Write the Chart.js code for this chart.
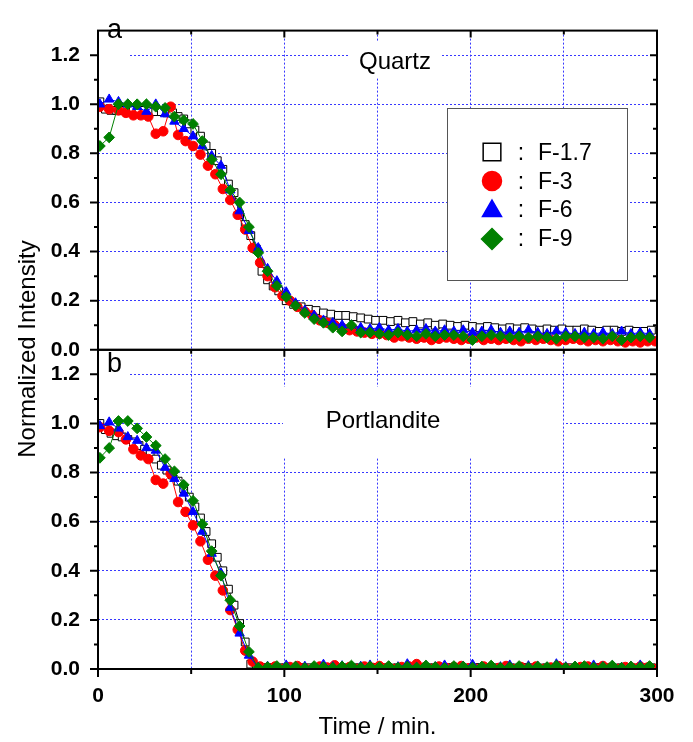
<!DOCTYPE html>
<html><head><meta charset="utf-8">
<script src="https://cdn.jsdelivr.net/npm/chart.js@4/dist/chart.umd.min.js"></script>
<style>html,body{margin:0;padding:0;background:#fff}canvas{display:block}</style>
</head><body>
<canvas id="c" width="693" height="742"></canvas>
<script>
// ---------- data ----------
const seriesNames = ['F-1.7', 'F-3', 'F-6', 'F-9'];
const panelTitles = ['Quartz', 'Portlandite'];
const panelLetters = ['a', 'b'];
const xTickLabels = ['0', '100', '200', '300'];
const yTickLabels = ['0.0', '0.2', '0.4', '0.6', '0.8', '1.0', '1.2'];
const xTitle = 'Time / min.';
const yTitle = 'Normalized Intensity';

// sampling times (min)
const timesBlack = [1,4,7,10,13,16,19,22,25,28, 31,34,37,40,43,46,49,52,55,58,
  61,64,67,70,73,76,79,82,85,88, 91,94,97,
  101,105,109,113,117,121,125,129,133,137, 141,145,149,153,157,161,165,169,173,177,
  181,185,189,193,197,201,205,209,213,217, 221,225,229,233,237,241,245,249,253,257,
  261,265,269,273,277,281,285,289,293,297];
const timesRed = [1,6,11,15,19,23,27,31,35,39, 43,47,51,55,59,63,67,71,75,79,
  83,87,91,95,99,103,107,111,115,119, 123,127,131,135,139,143,147,151,155,159,
  163,167,171,175,179,183,187,191,195,199, 203,207,211,215,219,223,227,231,235,239,
  243,247,251,255,259,263,267,271,275,279, 283,287,291,295,299];
const timesBlueGreen = [1,6,11,16,21,26,31,36,41,46, 51,56,61,66,71,76,81,86,91,96,
  101,106,111,116,121,126,131,136,141,146, 151,156,161,166,171,176,181,186,191,196,
  201,206,211,216,221,226,231,236,241,246, 251,256,261,266,271,276,281,286,291,296];

// (a) Quartz
const quartzF17 = [1.01,0.98,0.975,0.975,0.975,0.975,0.975,0.975,0.975,0.97,
  0.97,0.97,0.965,0.965,0.95,0.94,0.92,0.895,0.87,0.83,
  0.80,0.77,0.735,0.675,0.64,0.55,0.51,0.465,0.41,0.32,
  0.285,0.26,0.24,
  0.20,0.185,0.175,0.165,0.16,0.15,0.145,0.14,0.14,0.135,
  0.13,0.125,0.12,0.12,0.115,0.12,0.11,0.115,0.105,0.11,
  0.10,0.105,0.10,0.095,0.10,0.095,0.09,0.095,0.09,0.085,
  0.09,0.085,0.09,0.085,0.08,0.085,0.08,0.085,0.08,0.08,
  0.085,0.08,0.075,0.08,0.08,0.075,0.08,0.075,0.075,0.08];
const quartzF3 = [0.99,0.98,0.975,0.965,0.955,0.955,0.95,0.88,0.89,0.99,
  0.875,0.85,0.83,0.795,0.75,0.715,0.655,0.61,0.55,0.49,
  0.415,0.355,0.30,0.255,0.22,0.20,0.175,0.155,0.14,0.12,
  0.11,0.10,0.09,0.08,0.075,0.07,0.065,0.065,0.06,0.05,
  0.055,0.05,0.045,0.05,0.04,0.045,0.05,0.045,0.04,0.045,
  0.05,0.04,0.045,0.04,0.045,0.04,0.035,0.045,0.04,0.045,
  0.04,0.035,0.04,0.045,0.04,0.035,0.04,0.035,0.04,0.035,
  0.03,0.035,0.03,0.035,0.035];
const quartzF6 = [1.0,1.02,1.01,1.0,0.99,0.97,1.0,0.96,0.93,0.90,
  0.87,0.83,0.79,0.75,0.65,0.565,0.485,0.415,0.33,0.28,
  0.235,0.19,0.16,0.14,0.12,0.11,0.10,0.10,0.09,0.085,
  0.09,0.08,0.085,0.075,0.08,0.085,0.075,0.08,0.075,0.08,
  0.07,0.075,0.08,0.07,0.075,0.07,0.08,0.07,0.065,0.075,
  0.07,0.065,0.07,0.065,0.07,0.065,0.075,0.065,0.07,0.065];
const quartzF9 = [0.83,0.865,1.0,1.0,1.0,1.0,0.99,0.985,0.95,0.935,
  0.92,0.85,0.775,0.715,0.65,0.60,0.50,0.395,0.32,0.26,
  0.215,0.18,0.15,0.125,0.11,0.09,0.075,0.10,0.07,0.07,
  0.065,0.06,0.07,0.06,0.055,0.065,0.055,0.06,0.06,0.055,
  0.04,0.055,0.06,0.055,0.05,0.055,0.05,0.055,0.05,0.045,
  0.055,0.055,0.05,0.05,0.045,0.055,0.04,0.05,0.055,0.05];

// (b) Portlandite
const portlanditeF17 = [1.0,0.975,0.96,0.95,0.945,0.935,0.925,0.91,0.895,0.875,
  0.855,0.83,0.81,0.79,0.765,0.735,0.70,0.66,0.615,0.56,
  0.51,0.455,0.40,0.325,0.26,0.185,0.11,0.02,0.005,0.005,
  0.005,0.005,0.005,
  0.005,0.004,0.006,0.005,0.004,0.005,0.006,0.004,0.005,0.005,
  0.005,0.004,0.006,0.005,0.004,0.005,0.006,0.004,0.005,0.005,
  0.005,0.004,0.006,0.005,0.004,0.005,0.006,0.004,0.005,0.005,
  0.005,0.004,0.006,0.005,0.004,0.005,0.006,0.004,0.005,0.005,
  0.005,0.004,0.006,0.005,0.004,0.005,0.006,0.004,0.005,0.005];
const portlanditeF3 = [0.985,0.97,0.965,0.935,0.895,0.87,0.855,0.77,0.755,0.795,
  0.68,0.64,0.585,0.52,0.445,0.38,0.32,0.24,0.16,0.075,
  0.03,0.01,0.005,0.01,0.0,0.008,0.012,0.004,0.0,0.01,
  0.006,0.015,0.003,0.008,0.0,0.01,0.005,0.012,0.004,0.0,
  0.008,0.01,0.02,0.006,0.0,0.01,0.004,0.008,0.012,0.003,
  0.0,0.01,0.006,0.004,0.012,0.0,0.008,0.005,0.01,0.0,
  0.006,0.012,0.004,0.0,0.008,0.01,0.003,0.012,0.005,0.0,
  0.008,0.004,0.01,0.006,0.0];
const portlanditeF6 = [0.99,1.005,0.98,0.945,0.93,0.90,0.89,0.82,0.775,0.715,
  0.64,0.56,0.47,0.39,0.25,0.145,0.055,0.005,0.01,0.005,
  0.015,0.008,0.01,0.005,0.018,0.008,0.012,0.006,0.01,0.015,
  0.005,0.01,0.008,0.02,0.006,0.012,0.008,0.015,0.005,0.01,
  0.018,0.006,0.01,0.008,0.015,0.005,0.012,0.01,0.006,0.02,
  0.008,0.01,0.005,0.015,0.008,0.012,0.006,0.01,0.015,0.008];
const portlanditeF9 = [0.86,0.90,1.01,1.01,0.98,0.945,0.91,0.855,0.805,0.75,
  0.685,0.59,0.48,0.38,0.28,0.175,0.07,0.005,0.008,0.012,
  0.006,0.01,0.004,0.012,0.008,0.005,0.01,0.014,0.006,0.01,
  0.008,0.012,0.005,0.01,0.006,0.014,0.008,0.004,0.012,0.01,
  0.006,0.01,0.014,0.005,0.008,0.012,0.006,0.01,0.008,0.014,
  0.005,0.01,0.012,0.006,0.008,0.014,0.005,0.01,0.008,0.012];

// ---------- styles ----------
const FONT = "'Liberation Sans', Arial, Helvetica, sans-serif";
Chart.defaults.font.family = FONT;
Chart.defaults.color = '#000';
const lineColors = ['#000000', '#ff0000', '#0000ff', '#008000'];
const fillColors = ['#ffffff', '#ff0000', '#0000ff', '#008000'];
const shapes = ['rect', 'circle', 'triangle', 'rectRot'];
const radii = [5.5, 4.8, 5.4, 5.4];
const legendRadii = [12.5, 9.5, 11, 10.5];
const gridColor = '#3838ff';

function makeSet(k, times, values, axisId) {
  return {
    label: seriesNames[k] + ' ' + axisId,
    data: times.map((t, i) => ({x: t, y: values[i]})),
    yAxisID: axisId,
    showLine: true,
    tension: 0,
    borderColor: lineColors[k],
    backgroundColor: fillColors[k],
    borderWidth: 1,
    pointStyle: shapes[k],
    pointRadius: radii[k],
    pointHoverRadius: radii[k],
    pointBorderColor: lineColors[k],
    pointBackgroundColor: fillColors[k],
    pointBorderWidth: 1,
    clip: 0
  };
}

const panelA = [[quartzF17, timesBlack], [quartzF3, timesRed], [quartzF6, timesBlueGreen], [quartzF9, timesBlueGreen]];
const panelB = [[portlanditeF17, timesBlack], [portlanditeF3, timesRed], [portlanditeF6, timesBlueGreen], [portlanditeF9, timesBlueGreen]];
const datasets = [];
[3, 2, 1, 0].forEach(k => datasets.push(makeSet(k, panelA[k][1], panelA[k][0], 'yA')));
[3, 2, 1, 0].forEach(k => datasets.push(makeSet(k, panelB[k][1], panelB[k][0], 'yB')));

function yAxis() {
  return {
    type: 'linear', position: 'left', stack: 'panels', stackWeight: 1,
    min: 0, max: 1.3,
    afterFit(s) { s.width = 98; },
    ticks: {
      stepSize: 0.2, includeBounds: false,
      callback: (v) => { const s = Number(v).toFixed(1); return yTickLabels.includes(s) ? s : ''; },
      font: {size: 21, weight: 'bold'}, color: '#000', padding: 18
    },
    grid: {color: gridColor, lineWidth: 1, drawTicks: false},
    border: {display: false, dash: [2, 2]}
  };
}

const deco = {
  id: 'deco',
  beforeDatasetsDraw(chart) {
    const ctx = chart.ctx, x = chart.scales.x, yA = chart.scales.yA, yB = chart.scales.yB;
    ctx.save();
    ctx.fillStyle = '#fff';
    ctx.fillRect(x.left + 1, yA.top + 1, 31, 42);
    ctx.fillRect(x.left + 1, yB.top + 1, 31, 42);
    ctx.fillRect(350, 42, 92, 36);
    ctx.fillRect(283, 387, 280, 71);
    ctx.fillRect(447, 108, 180, 172);
    ctx.restore();
  },
  afterDraw(chart) {
    const ctx = chart.ctx, x = chart.scales.x, yA = chart.scales.yA, yB = chart.scales.yB;
    ctx.save();
    // frames
    ctx.strokeStyle = '#000';
    ctx.lineWidth = 2;
    [yA, yB].forEach(s => ctx.strokeRect(x.left, s.top, x.right - x.left, s.bottom - s.top));
    // tick marks
    ctx.beginPath();
    [yA, yB].forEach(s => {
      for (let i = 0; i <= 12; i++) {
        const py = s.getPixelForValue(i / 10);
        const major = i % 2 === 0;
        ctx.moveTo(x.left - (major ? 8 : 4), py); ctx.lineTo(x.left, py);
        ctx.moveTo(x.right, py); ctx.lineTo(x.right - (major ? 7 : 4), py);
      }
    });
    [0, 50, 100, 150, 200, 250, 300].forEach(v => {
      const px = x.getPixelForValue(v);
      const major = v % 100 === 0;
      ctx.moveTo(px, yB.bottom); ctx.lineTo(px, yB.bottom + (major ? 8 : 5));
      if (v > 0 && v < 300) {
        ctx.moveTo(px, yA.top); ctx.lineTo(px, yA.top + (major ? 7 : 4));
        ctx.moveTo(px, yB.top); ctx.lineTo(px, yB.top + (major ? 7 : 4));
      }
    });
    ctx.stroke();

    // panel letters & titles
    ctx.fillStyle = '#000';
    ctx.textBaseline = 'alphabetic';
    ctx.textAlign = 'left';
    ctx.font = '27px ' + FONT;
    ctx.fillText(panelLetters[0], 107, 38);
    ctx.fillText(panelLetters[1], 107, 372);
    ctx.textAlign = 'center';
    ctx.font = '24px ' + FONT;
    ctx.fillText(panelTitles[0], 395, 69);
    ctx.fillText(panelTitles[1], 383, 428);

    // y title
    ctx.save();
    ctx.translate(35, 349);
    ctx.rotate(-Math.PI / 2);
    ctx.font = '24px ' + FONT;
    ctx.textAlign = 'center';
    ctx.fillText(yTitle, 0, 0);
    ctx.restore();

    // legend
    ctx.lineWidth = 1;
    ctx.strokeStyle = '#555';
    ctx.strokeRect(447.5, 108.5, 180, 172);
    const rows = [152, 181, 211, 239];
    const textRows = [160, 189, 217, 246];
    for (let k = 0; k < 4; k++) {
      ctx.fillStyle = fillColors[k];
      ctx.strokeStyle = lineColors[k];
      ctx.lineWidth = 1.5;
      Chart.helpers.drawPoint(ctx, {pointStyle: shapes[k], radius: legendRadii[k], borderWidth: 1.5, rotation: 0}, 492, rows[k]);
      ctx.fillStyle = '#000';
      ctx.font = '23px ' + FONT;
      ctx.textAlign = 'center';
      ctx.fillText(':', 521, textRows[k]);
      ctx.textAlign = 'left';
      ctx.fillText(seriesNames[k], 538, textRows[k]);
    }
    ctx.restore();
  }
};

new Chart(document.getElementById('c'), {
  type: 'scatter',
  data: {datasets},
  options: {
    responsive: false,
    animation: false,
    devicePixelRatio: 1,
    layout: {padding: {top: 8, right: 36, left: 0, bottom: 0}},
    plugins: {legend: {display: false}, tooltip: {enabled: false}},
    scales: {
      x: {
        type: 'linear', position: 'bottom', min: 0, max: 300,
        afterFit(s) { s.height = 73; },
        ticks: {
          stepSize: 50, autoSkip: false, maxRotation: 0,
          callback: (v) => xTickLabels.includes(String(v)) ? String(v) : '',
          font: {size: 21, weight: 'bold'}, color: '#000', padding: 15
        },
        grid: {color: gridColor, lineWidth: 1, drawTicks: false},
        border: {display: false, dash: [2, 2]},
        title: {display: true, text: xTitle, font: {size: 24}, color: '#000', padding: {top: 0, bottom: 0}}
      },
      yB: yAxis(),
      yA: yAxis()
    }
  },
  plugins: [deco]
});
</script>
</body></html>
